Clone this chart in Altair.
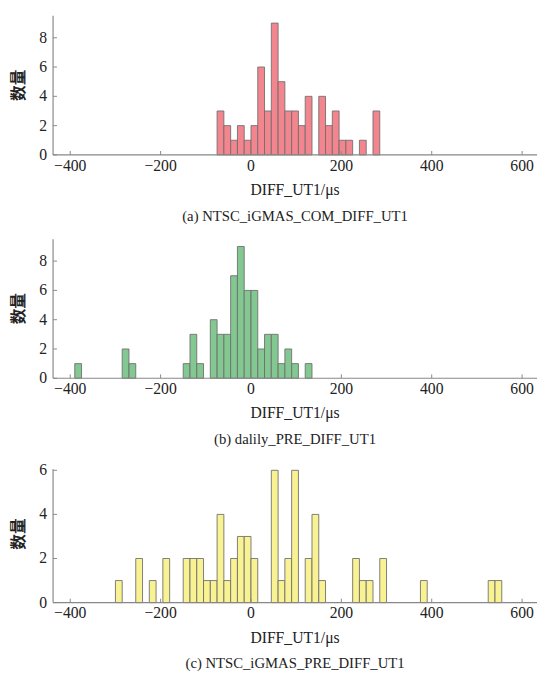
import altair as alt
import pandas as pd

# bin starts (width 15 µs) and counts
BIN_W = 15
a_starts = [-75, -60, -45, -30, -15, 0, 15, 30, 45, 60, 75, 90, 105, 120, 150, 165, 180, 195, 210, 240, 270]
a_counts = [3, 2, 1, 2, 1, 2, 6, 3, 9, 5, 3, 3, 2, 4, 4, 2, 3, 1, 1, 1, 3]

b_starts = [-390, -285, -270, -150, -135, -120, -90, -75, -60, -45, -30, -15, 0, 15, 30, 45, 60, 75, 90, 120]
b_counts = [1, 2, 1, 1, 3, 1, 4, 3, 3, 7, 9, 6, 6, 2, 3, 3, 1, 2, 1, 1]

c_starts = [-300, -255, -225, -195, -150, -135, -120, -105, -90, -75, -60, -45, -30, -15, 0,
            45, 60, 75, 90, 120, 135, 150, 225, 240, 255, 285, 375, 525, 540]
c_counts = [1, 2, 1, 2, 2, 2, 2, 1, 1, 4, 1, 2, 3, 3, 2,
            6, 1, 2, 6, 2, 4, 1, 2, 1, 1, 2, 1, 1, 1]

x_ticks = [-400, -200, 0, 200, 400, 600]
x_title = "DIFF_UT1/μs"
y_title = "数量"
captions = ["(a) NTSC_iGMAS_COM_DIFF_UT1", "(b) dalily_PRE_DIFF_UT1", "(c) NTSC_iGMAS_PRE_DIFF_UT1"]
colors = ["#F27E88", "#7CC48B", "#F9F18C"]
y_tops = [9.5, 9.5, 6.22]
y_axis_tops = [9.5, 9.5, 6.05]
y_tick_sets = [[0, 2, 4, 6, 8], [0, 2, 4, 6, 8], [0, 2, 4, 6]]
heights = [142, 142, 140]

W = 494
SERIF = "Liberation Serif"
CJK = "Noto Sans CJK SC"
XDOM = [-438, 633]
INK = "#222222"
AXC = "#888888"


def panel(starts, counts, color, caption, ytop, yaxistop, yticks, H):
    df = pd.DataFrame({"start": starts, "count": counts})
    df["end"] = df["start"] + BIN_W
    xs = alt.Scale(domain=XDOM, nice=False, zero=False)
    ys = alt.Scale(domain=[0, ytop], nice=False)
    bars = alt.Chart(df).mark_rect(
        fill=color, fillOpacity=0.95, stroke="#707070", strokeWidth=1, strokeOpacity=0.9
    ).encode(
        x=alt.X("start:Q", scale=xs, axis=None),
        x2="end:Q",
        y=alt.Y("count:Q", scale=ys, axis=None),
    )
    xdf = pd.DataFrame({"v": x_ticks})
    ydf = pd.DataFrame({"v": yticks})
    xt = alt.Chart(xdf).mark_rule(color=AXC, strokeWidth=1).encode(
        x=alt.X("v:Q", scale=xs, axis=None), y=alt.value(H), y2=alt.value(H - 4)
    )
    xl = alt.Chart(xdf).mark_text(font=SERIF, fontSize=16, color=INK, baseline="middle",
                                  align="center").encode(
        x=alt.X("v:Q", scale=xs, axis=None), y=alt.value(H + 11),
        text=alt.Text("v:Q", format="d"),
    )
    yt = alt.Chart(ydf).mark_rule(color=AXC, strokeWidth=1).encode(
        y=alt.Y("v:Q", scale=ys, axis=None), x=alt.value(0), x2=alt.value(4)
    )
    yl = alt.Chart(ydf).mark_text(font=SERIF, fontSize=16, color=INK, baseline="middle",
                                  align="right").encode(
        y=alt.Y("v:Q", scale=ys, axis=None), x=alt.value(-6),
        text=alt.Text("v:Q", format="d"),
    )
    yline = alt.Chart(pd.DataFrame({"a": [0], "b": [yaxistop]})).mark_rule(
        color=AXC, strokeWidth=1.2
    ).encode(y=alt.Y("a:Q", scale=ys, axis=None), y2="b:Q", x=alt.value(0))
    xline = alt.Chart(pd.DataFrame({"a": [XDOM[0]], "b": [XDOM[1]]})).mark_rule(
        color=AXC, strokeWidth=1.2
    ).encode(x=alt.X("a:Q", scale=xs, axis=None), x2="b:Q", y=alt.value(H))
    txt = pd.DataFrame({"xt": [x_title], "yt": [y_title], "cap": [caption]})
    xtitle = alt.Chart(txt).mark_text(font=SERIF, fontSize=16, color=INK, baseline="middle",
                                      align="center").encode(
        text="xt:N", x=alt.value(W / 2), y=alt.value(H + 36))
    ytitle = alt.Chart(txt).mark_text(font=CJK, fontSize=16, fontWeight="bold", color=INK,
                                      baseline="middle", align="center", angle=270).encode(
        text="yt:N", x=alt.value(-35), y=alt.value(H / 2))
    cap = alt.Chart(txt).mark_text(font=SERIF, fontSize=15, color=INK, baseline="middle",
                                   align="center").encode(
        text="cap:N", x=alt.value(W / 2), y=alt.value(H + 62))
    return alt.layer(bars, xline, yline, xt, yt, xl, yl, xtitle, ytitle, cap).properties(
        width=W, height=H)


charts = [panel(s, c, col, cap, yt, yat, tk, h) for s, c, col, cap, yt, yat, tk, h in
          zip([a_starts, b_starts, c_starts], [a_counts, b_counts, c_counts], colors, captions,
              y_tops, y_axis_tops, y_tick_sets, heights)]

chart = alt.vconcat(*charts, spacing=15).properties(
    padding={"left": 3, "top": 0, "right": 0, "bottom": 0}
).configure_view(stroke=None)

chart.save("out.html", embed_options={"renderer": "svg", "actions": False})
